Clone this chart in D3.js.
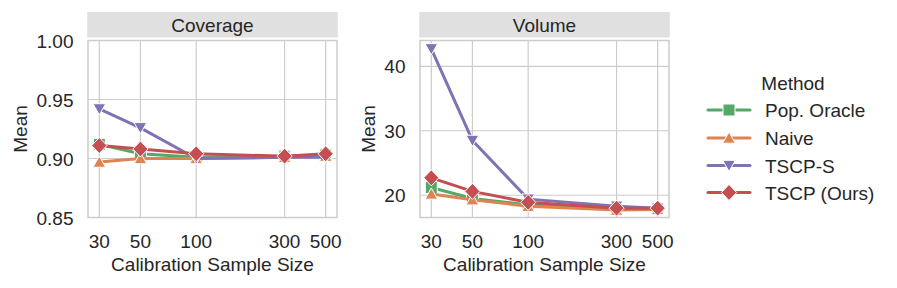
<!DOCTYPE html>
<html>
<head>
<meta charset="utf-8">
<script src="https://cdn.jsdelivr.net/npm/d3@7"></script>
<style>
  body { margin: 0; background: #fff; }
  text { font-family: "Liberation Sans", Arial, sans-serif; fill: #262626; font-size: 19px; }
</style>
</head>
<body>
<script>
// data
var sizes = [30, 50, 100, 300, 500];
var methods = ["Pop. Oracle", "Naive", "TSCP-S", "TSCP (Ours)"];
var colors = ["#55a868", "#dd8452", "#8172b3", "#c44e52"];
var shapes = ["square", "up", "down", "diamond"];

var coverageOracle = [0.912, 0.904, 0.901, 0.902, 0.903];
var coverageNaive = [0.897, 0.900, 0.900, 0.901, 0.902];
var coverageTscpS = [0.942, 0.926, 0.900, 0.901, 0.901];
var coverageTscp = [0.911, 0.908, 0.904, 0.902, 0.904];

var volumeOracle = [21.2, 19.5, 18.5, 17.9, 17.9];
var volumeNaive = [20.2, 19.3, 18.3, 17.7, 17.8];
var volumeTscpS = [42.7, 28.5, 19.4, 18.3, 18.0];
var volumeTscp = [22.7, 20.6, 18.9, 18.0, 18.0];

var yTicksCoverage = [0.85, 0.90, 0.95, 1.00];
var yTicksVolume = [20, 30, 40];

var panels = [
  {title: "Coverage", series: [coverageOracle, coverageNaive, coverageTscpS, coverageTscp],
   domain: [0.85, 1.0], ticks: yTicksCoverage, fmt: d3.format(".2f"), left: 88, labelX: 20},
  {title: "Volume", series: [volumeOracle, volumeNaive, volumeTscpS, volumeTscp],
   domain: [16.55, 44.0], ticks: yTicksVolume, fmt: d3.format("d"), left: 420, labelX: 367.5}
];

var W = 897, H = 288;
var plotW = 249, plotTop = 40.5, plotBottom = 217.5;
var stripTop = 12, stripH = 25.5;

var svg = d3.select("body").append("svg")
  .attr("width", W).attr("height", H);

// log x with 5% padding on each side
var lo = Math.log(30), hi = Math.log(500), pad = (hi - lo) * 0.05;
var xDomain = [Math.exp(lo - pad), Math.exp(hi + pad)];

function markerPath(shape) {
  if (shape == "square") return "M-6,-6h12v12h-12Z";
  if (shape == "up") return "M0,-6L6.3,5.2L-6.3,5.2Z";
  if (shape == "down") return "M0,6L6.3,-5.2L-6.3,-5.2Z";
  return "M0,-8L7.6,0L0,8L-7.6,0Z";
}

panels.forEach(function(p) {
  var x = d3.scaleLog().domain(xDomain).range([p.left, p.left + plotW]);
  var y = d3.scaleLinear().domain(p.domain).range([plotBottom, plotTop]);
  var g = svg.append("g");

  // strip
  g.append("rect").attr("x", p.left - 0.75).attr("y", stripTop).attr("width", plotW + 1.5).attr("height", stripH)
    .attr("fill", "#e0e0e0");
  g.append("text").attr("x", p.left + plotW / 2).attr("y", stripTop + stripH / 2 + 7)
    .attr("text-anchor", "middle").text(p.title);

  // grid
  g.selectAll(".gx").data(sizes).enter().append("line")
    .attr("x1", function(d) { return x(d); }).attr("x2", function(d) { return x(d); })
    .attr("y1", plotTop).attr("y2", plotBottom)
    .attr("stroke", "#cccccc").attr("stroke-width", 1.2);
  g.selectAll(".gy").data(p.ticks).enter().append("line")
    .attr("x1", p.left).attr("x2", p.left + plotW)
    .attr("y1", function(d) { return y(d); }).attr("y2", function(d) { return y(d); })
    .attr("stroke", "#cccccc").attr("stroke-width", 1.2);
  g.append("rect").attr("x", p.left).attr("y", plotTop).attr("width", plotW).attr("height", plotBottom - plotTop)
    .attr("fill", "none").attr("stroke", "#cccccc").attr("stroke-width", 1.5);

  // axes labels
  g.selectAll(".tx").data(sizes).enter().append("text")
    .attr("x", function(d) { return x(d); }).attr("y", 247.5)
    .attr("text-anchor", "middle").text(function(d) { return d; });
  g.selectAll(".ty").data(p.ticks).enter().append("text")
    .attr("x", p.left - 14.5).attr("y", function(d) { return y(d) + 7; })
    .attr("text-anchor", "end").text(function(d) { return p.fmt(d); });
  g.append("text").attr("x", p.left + plotW / 2).attr("y", 271)
    .attr("text-anchor", "middle").text("Calibration Sample Size");
  g.append("text").attr("transform", "translate(" + (p.labelX + 7) + "," + ((plotTop + plotBottom) / 2) + ") rotate(-90)")
    .attr("text-anchor", "middle").text("Mean");

  // lines and markers
  var line = d3.line().x(function(d, i) { return x(sizes[i]); }).y(function(d) { return y(d); });
  p.series.forEach(function(s, k) {
    g.append("path").datum(s).attr("d", line)
      .attr("fill", "none").attr("stroke", colors[k]).attr("stroke-width", 3)
      .attr("stroke-linejoin", "round");
    g.selectAll(".m" + k).data(s).enter().append("path")
      .attr("transform", function(d, i) { return "translate(" + x(sizes[i]) + "," + y(d) + ")"; })
      .attr("d", markerPath(shapes[k]))
      .attr("fill", colors[k]).attr("stroke", "#fff").attr("stroke-width", 1);
  });
});

// legend
var lg = svg.append("g");
lg.append("text").attr("x", 793).attr("y", 90).attr("text-anchor", "middle").text("Method");
var legY = [110, 138, 165.5, 192.5];
methods.forEach(function(m, k) {
  lg.append("line").attr("x1", 708).attr("x2", 750).attr("y1", legY[k]).attr("y2", legY[k])
    .attr("stroke", colors[k]).attr("stroke-width", 3).attr("stroke-linecap", "round");
  lg.append("path").attr("transform", "translate(729," + legY[k] + ")")
    .attr("d", markerPath(shapes[k]))
    .attr("fill", colors[k]).attr("stroke", "#fff").attr("stroke-width", 1);
  lg.append("text").attr("x", 765).attr("y", legY[k] + 7).text(m);
});
</script>
</body>
</html>
